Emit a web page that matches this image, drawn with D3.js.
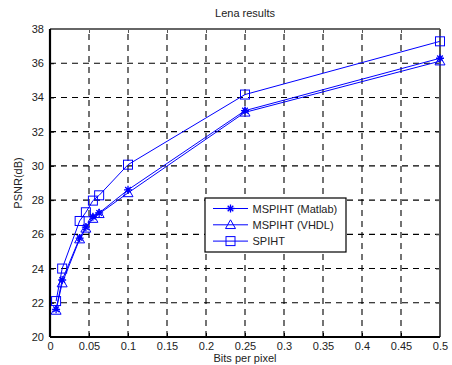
<!DOCTYPE html>
<html>
<head>
<meta charset="utf-8">
<script src="https://cdn.jsdelivr.net/npm/d3@7"></script>
<style>
  body { margin: 0; background: #fff; }
  svg { display: block; font-family: "Liberation Sans", Arial, sans-serif; }
</style>
</head>
<body>
<div id="chart"></div>
<script>
// data
const bitRates = [0.0078, 0.0156, 0.038, 0.046, 0.055, 0.063, 0.1, 0.25, 0.5];
const psnrMatlab = [21.62, 23.33, 25.78, 26.42, 27.03, 27.25, 28.6, 33.23, 36.29];
const psnrVhdl = [21.55, 23.15, 25.72, 26.35, 26.92, 27.2, 28.42, 33.13, 36.12];
const psnrSpiht = [22.1, 24.0, 26.78, 27.29, 27.97, 28.28, 30.07, 34.17, 37.28];
const seriesNames = ["MSPIHT (Matlab)", "MSPIHT (VHDL)", "SPIHT"];
const xTicks = [0, 0.05, 0.1, 0.15, 0.2, 0.25, 0.3, 0.35, 0.4, 0.45, 0.5];
const yTicks = [20, 22, 24, 26, 28, 30, 32, 34, 36, 38];

const W = 452, H = 365;
const margin = { t: 29, r: 12, b: 28, l: 50 };
const plotW = W - margin.l - margin.r;   // 390
const plotH = H - margin.t - margin.b;   // 308

const svg = d3.select("#chart").append("svg")
  .attr("width", W).attr("height", H)
  .attr("viewBox", [0, 0, W, H]);

svg.append("rect").attr("width", W).attr("height", H).attr("fill", "#fff");

const x = d3.scaleLinear().domain([0, 0.5]).range([margin.l, margin.l + plotW]);
const y = d3.scaleLinear().domain([20, 38]).range([margin.t + plotH, margin.t]);

// grid
const grid = svg.append("g").attr("class", "grid");
grid.selectAll("line.gx").data(xTicks.slice(1, -1)).join("line")
  .attr("x1", d => x(d)).attr("x2", d => x(d))
  .attr("y1", y(20)).attr("y2", y(38))
  .attr("stroke", "#000").attr("stroke-width", 1.1)
  .attr("stroke-dasharray", "6,5");
grid.selectAll("line.gy").data(yTicks.slice(1, -1)).join("line")
  .attr("y1", d => y(d)).attr("y2", d => y(d))
  .attr("x1", x(0)).attr("x2", x(0.5))
  .attr("stroke", "#000").attr("stroke-width", 1.1)
  .attr("stroke-dasharray", "6,5");

// axes
const ax = d3.axisBottom(x).tickValues(xTicks).tickFormat(d3.format("")).tickSizeInner(-4).tickSizeOuter(0).tickPadding(5);
const ay = d3.axisLeft(y).tickValues(yTicks).tickFormat(d3.format("")).tickSizeInner(-4).tickSizeOuter(0).tickPadding(6);
const axT = d3.axisTop(x).tickValues(xTicks).tickFormat("").tickSizeInner(-4).tickSizeOuter(0);
const ayR = d3.axisRight(y).tickValues(yTicks).tickFormat("").tickSizeInner(-4).tickSizeOuter(0);

const styleAxis = (g, col) => {
  g.selectAll(".domain").remove();
  g.selectAll("line").attr("stroke", col);
  g.selectAll("text").attr("fill", "#222").style("font-size", "11px")
    .style("font-family", "'Liberation Sans', Arial, sans-serif");
};

svg.append("g").attr("transform", `translate(0,${y(38)})`).call(axT).call(g => styleAxis(g, "#555"));
svg.append("g").attr("transform", `translate(${x(0.5)},0)`).call(ayR).call(g => styleAxis(g, "#555"));
svg.append("g").attr("transform", `translate(0,${y(20)})`).call(ax).call(g => styleAxis(g, "#000"));
svg.append("g").attr("transform", `translate(${x(0)},0)`).call(ay).call(g => styleAxis(g, "#000"));

// frame
svg.append("line").attr("x1", x(0)).attr("x2", x(0.5)).attr("y1", y(38)).attr("y2", y(38))
  .attr("stroke", "#666").attr("stroke-width", 2);
svg.append("line").attr("x1", x(0.5)).attr("x2", x(0.5)).attr("y1", y(38)).attr("y2", y(20))
  .attr("stroke", "#555").attr("stroke-width", 2);
svg.append("line").attr("x1", x(0)).attr("x2", x(0.5)).attr("y1", y(20)).attr("y2", y(20))
  .attr("stroke", "#000").attr("stroke-width", 2);
svg.append("line").attr("x1", x(0)).attr("x2", x(0)).attr("y1", y(38)).attr("y2", y(20))
  .attr("stroke", "#000").attr("stroke-width", 2.2);

// titles
svg.append("text").attr("x", x(0.25)).attr("y", 17).attr("text-anchor", "middle")
  .style("font-size", "11px").attr("fill", "#222").text("Lena results");
svg.append("text").attr("x", x(0.25)).attr("y", 362).attr("text-anchor", "middle")
  .style("font-size", "11px").attr("fill", "#222").text("Bits per pixel");
svg.append("text").attr("transform", `translate(22,${y(29)}) rotate(-90)`).attr("text-anchor", "middle")
  .style("font-size", "11px").attr("fill", "#222").text("PSNR(dB)");

// markers
const blue = "#0000ff";
const markerFns = {
  star: (g, s) => {
    g.append("path").attr("d", `M${-s},0H${s}M0,${-s}V${s}M${-s * 0.7},${-s * 0.7}L${s * 0.7},${s * 0.7}M${-s * 0.7},${s * 0.7}L${s * 0.7},${-s * 0.7}`)
      .attr("stroke", blue).attr("stroke-width", 1.3).attr("fill", "none");
  },
  tri: (g, s) => {
    g.append("path").attr("d", `M0,${-s}L${s},${s * 0.75}L${-s},${s * 0.75}Z`)
      .attr("stroke", blue).attr("stroke-width", 1).attr("fill", "none");
  },
  square: (g, s) => {
    g.append("rect").attr("x", -s).attr("y", -s).attr("width", 2 * s).attr("height", 2 * s)
      .attr("stroke", blue).attr("stroke-width", 1).attr("fill", "none");
  }
};

const series = [
  { name: seriesNames[0], values: psnrMatlab, marker: "star", size: 4 },
  { name: seriesNames[1], values: psnrVhdl, marker: "tri", size: 5 },
  { name: seriesNames[2], values: psnrSpiht, marker: "square", size: 4.5 }
];

const line = d3.line().x(d => x(d[0])).y(d => y(d[1]));
const content = svg.append("g").attr("class", "content");
series.forEach(s => {
  const pts = bitRates.map((b, i) => [b, s.values[i]]);
  content.append("path").attr("d", line(pts)).attr("fill", "none")
    .attr("stroke", blue).attr("stroke-width", 1);
  content.selectAll(null).data(pts).join("g")
    .attr("transform", d => `translate(${x(d[0])},${y(d[1])})`)
    .each(function () { markerFns[s.marker](d3.select(this), s.size); });
});

// legend
const lg = svg.append("g").attr("transform", "translate(205,198)");
lg.append("rect").attr("width", 141).attr("height", 54).attr("fill", "#fff")
  .attr("stroke", "#000").attr("stroke-width", 1.2);
series.forEach((s, i) => {
  const ly = 10.5 + i * 16.3;
  lg.append("line").attr("x1", 8).attr("x2", 43).attr("y1", ly).attr("y2", ly)
    .attr("stroke", blue).attr("stroke-width", 1);
  const m = lg.append("g").attr("transform", `translate(25.5,${ly})`);
  markerFns[s.marker](m, s.size);
  lg.append("text").attr("x", 47.5).attr("y", ly + 4).style("font-size", "11px")
    .attr("fill", "#222").text(s.name);
});
</script>
</body>
</html>
